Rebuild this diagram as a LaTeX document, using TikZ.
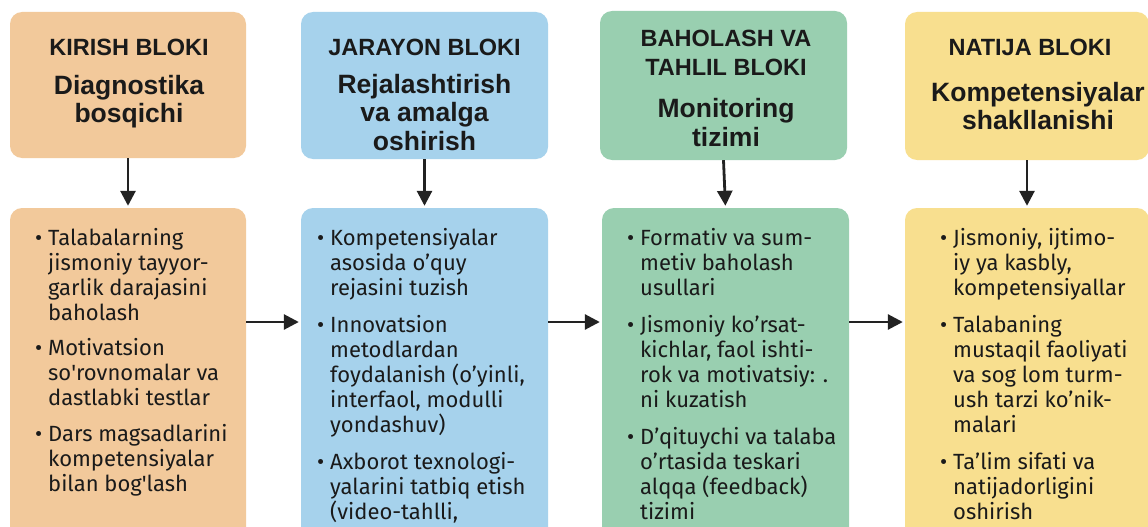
\documentclass[tikz,border=0pt]{standalone}
\usepackage{fontspec}
\setmainfont{Fira Sans}
\newfontfamily\headfont{Liberation Sans}
\usetikzlibrary{arrows.meta}
\definecolor{cpeach}{HTML}{F2C99B}
\definecolor{cblue}{HTML}{A6D2EC}
\definecolor{cgreen}{HTML}{99CFB0}
\definecolor{cyellow}{HTML}{F8DF8F}
\definecolor{arrowc}{HTML}{222222}
\definecolor{txt}{HTML}{1A1A1A}
\newcommand{\bul}{\llap{•\hspace{6pt}}}
\newcommand{\sq}{\textquotesingle}
\newcommand{\subf}{\fontsize{26.5}{29}\selectfont}
\begin{document}
\begin{tikzpicture}[x=1pt,y=-1pt,
  box/.style={rounded corners=12pt, inner sep=0pt, draw=none},
  head/.style={font=\headfont\bfseries\fontsize{23.5}{28.5}\selectfont, text=txt, align=center, anchor=north, inner sep=0pt},
  body/.style={font=\fontsize{22}{25}\selectfont, text=txt, align=left, anchor=north west, inner sep=0pt},
  arr/.style={-{Triangle[length=15pt,width=15pt]}, line width=2.8pt, draw=arrowc, shorten >=2pt}]
\useasboundingbox (0,0) rectangle (1148,527);
\clip (0,0) rectangle (1148,527);
\fill[white] (0,0) rectangle (1148,527);
% top boxes
\node[box, fill=cpeach, minimum width=236pt, minimum height=146pt] (t1) at (128,85) {};
\node[box, fill=cblue, minimum width=247pt, minimum height=147pt] (t2) at (424.5,85.5) {};
\node[box, fill=cgreen, minimum width=247pt, minimum height=149pt] (t3) at (723.5,85.5) {};
\node[box, fill=cyellow, minimum width=244pt, minimum height=148pt] (t4) at (1027,86) {};
% bottom boxes
\node[box, fill=cpeach, minimum width=236pt, minimum height=340pt] (b1) at (128,378) {};
\node[box, fill=cblue, minimum width=247pt, minimum height=340pt] (b2) at (424.5,378) {};
\node[box, fill=cgreen, minimum width=247pt, minimum height=340pt] (b3) at (725.5,378) {};
\node[box, fill=cyellow, minimum width=244pt, minimum height=340pt] (b4) at (1027,378) {};
% titles
\node[head] (h1) at (129,39) {KIRISH BLOKI\\[10pt]\subf Diagnostika\\\subf bosqichi};
\node[head] (h2) at (424.5,39) {JARAYON BLOKI\\[9pt]\subf Rejalashtirish\\\subf va amalga\\\subf oshirish};
\node[head] (h3) at (726,30) {BAHOLASH VA\\TAHLIL BLOKI\\[14pt]\subf Monitoring\\\subf tizimi};
\node[head] (h4) at (1038,39) {NATIJA BLOKI\hspace*{16pt}\\[17pt]\subf Kompetensiyalar\\\subf shakllanishi};
% body texts
\node[body] (x1) at (48,228) {\bul Talabalarning\\jismoniy tayyor-\\garlik darajasini\\baholash\\[10pt]
\bul Motivatsion\\so\sq rovnomalar va\\dastlabki testlar\\[11pt]
\bul Dars magsadlarini\\kompetensiyalar\\bilan bog\sq lash};
\node[body] (x2) at (330,228) {\bul Kompetensiyalar\\asosida o’quy\\rejasini tuzish\\[12pt]
\bul Innovatsion\\metodlardan\\foydalanish (o’yinli,\\interfaol, modulli\\yondashuv)\\[12pt]
\bul Axborot texnologi-\\yalarini tatbiq etish\\(video-tahlli,};
\node[body] (x3) at (640,228) {\bul Formativ va sum-\\metiv baholash\\usullari\\[12pt]
\bul Jismoniy ko’rsat-\\kichlar, faol ishti-\\rok va motivatsiy: .\\ni kuzatish\\[12pt]
\bul D’qituychi va talaba\\o’rtasida teskari\\alqqa (feedback)\\tizimi};
\node[body] (x4) at (953,228) {\bul Jismoniy, ijtimo-\\iy ya kasbly,\\kompetensiyallar\\[12pt]
\bul Talabaning\\mustaqil faoliyati\\va sog lom turm-\\ush tarzi ko’nik-\\malari\\[12pt]
\bul Ta’lim sifati va\\natijadorligini\\oshirish};
% arrows
\draw[arr] (t1.south) -- (b1.north);
\draw[arr] (t2.south) -- (b2.north);
\draw[arr] (t3.south) -- (b3.north);
\draw[arr] (t4.south) -- (b4.north);
\coordinate (row) at (0,322);
\draw[arr] (b1.east |- row) -- (b2.west |- row);
\draw[arr] (b2.east |- row) -- (b3.west |- row);
\draw[arr] (b3.east |- row) -- (b4.west |- row);
\end{tikzpicture}
\end{document}
